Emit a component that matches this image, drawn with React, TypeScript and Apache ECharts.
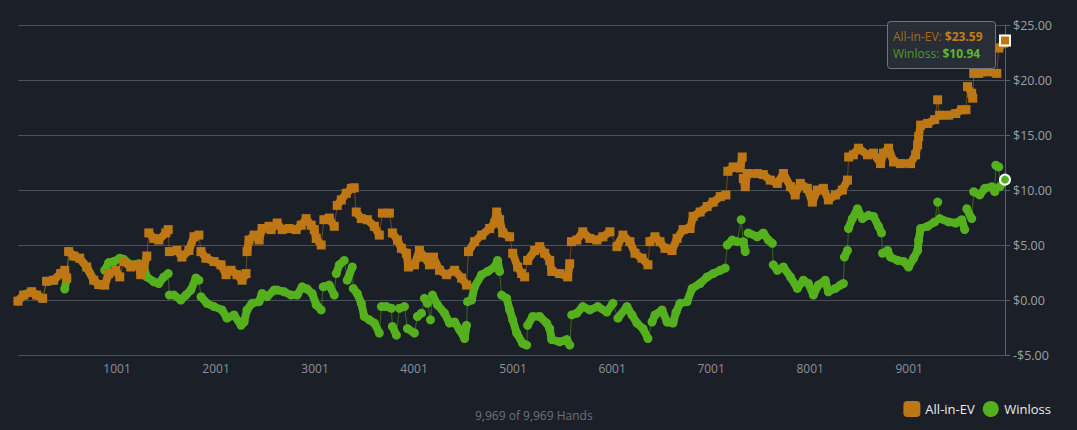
import React, { useEffect, useRef } from "react";
import * as echarts from "echarts";

// [hand, dollars]
const allInEv: [number, number][] = [
  [1, -0.1], [58, 0.45], [139, 0.75], [189, 0.45], [250, 0.15], [290, 1.7], [361, 1.8], [432, 2.4], [473, 2.7], [493, 2.0],
  [513, 4.4], [564, 4.0], [624, 3.8], [695, 3.0], [766, 1.8], [817, 1.4], [877, 1.35], [918, 2.4], [989, 2.7], [1029, 2.1],
  [1069, 3.5], [1140, 3.0], [1221, 3.2], [1240, 2.3], [1272, 3.0], [1302, 4.0], [1322, 6.1], [1373, 5.6], [1423, 5.45], [1494, 6.1],
  [1518, 6.4], [1530, 4.4], [1606, 4.5], [1656, 3.9], [1727, 4.5], [1778, 5.75], [1828, 5.9], [1849, 4.4], [1899, 3.8], [1980, 3.5],
  [2051, 3.2], [2102, 2.3], [2152, 2.7], [2213, 2.3], [2264, 1.8], [2304, 2.4], [2314, 4.4], [2334, 5.45], [2385, 5.9], [2436, 5.45],
  [2466, 6.5], [2537, 6.7], [2557, 6.4], [2618, 7.0], [2669, 6.4], [2740, 6.5], [2810, 6.4], [2861, 6.8], [2911, 7.4], [2962, 6.8],
  [2993, 6.4], [3013, 5.6], [3063, 5.0], [3090, 7.3], [3144, 7.45], [3195, 6.7], [3225, 8.6], [3266, 9.1], [3316, 9.7], [3367, 10.15],
  [3397, 10.2], [3417, 8.0], [3468, 7.4], [3529, 7.3], [3600, 6.7], [3650, 5.9], [3681, 7.9], [3752, 7.9], [3782, 6.1], [3833, 5.45],
  [3873, 4.7], [3924, 4.25], [3944, 3.0], [4005, 3.2], [4055, 4.5], [4106, 3.9], [4157, 3.2], [4197, 3.9], [4258, 2.7], [4329, 2.3],
  [4410, 2.7], [4481, 2.0], [4531, 1.36], [4551, 4.4], [4612, 5.3], [4683, 5.9], [4764, 6.5], [4815, 7.0], [4835, 8.0], [4865, 7.3],
  [4896, 6.1], [4966, 5.75], [4997, 4.25], [5047, 3.0], [5088, 2.4], [5118, 2.1], [5148, 3.6], [5219, 4.5], [5270, 4.85], [5320, 4.25],
  [5371, 3.6], [5391, 2.6], [5472, 2.4], [5553, 2.1], [5573, 3.3], [5590, 5.3], [5644, 5.45], [5705, 6.2], [5776, 5.6], [5847, 5.45],
  [5908, 5.75], [5979, 6.2], [6050, 4.85], [6110, 5.9], [6181, 5.3], [6232, 4.25], [6303, 3.8], [6363, 3.2], [6383, 5.3], [6434, 5.75],
  [6485, 5.3], [6535, 4.7], [6606, 4.5], [6657, 5.6], [6718, 6.4], [6788, 6.5], [6819, 7.6], [6890, 8.0], [6961, 8.5], [7022, 8.9],
  [7093, 9.4], [7150, 9.55], [7170, 11.7], [7224, 12.1], [7295, 12.0], [7315, 13.0], [7326, 11.05], [7346, 10.3], [7366, 11.5], [7467, 11.5],
  [7528, 11.4], [7599, 10.9], [7670, 10.6], [7731, 11.5], [7802, 10.3], [7850, 9.55], [7902, 10.6], [7973, 10.15], [8023, 8.9], [8074, 10.0],
  [8135, 10.15], [8185, 9.1], [8256, 9.55], [8327, 10.0], [8378, 10.9], [8390, 13.0], [8438, 13.2], [8489, 13.8], [8580, 13.2], [8641, 13.35],
  [8712, 12.4], [8742, 13.35], [8793, 13.8], [8843, 12.55], [8914, 12.4], [9015, 12.4], [9066, 13.2], [9087, 14.1], [9097, 14.85], [9117, 15.9],
  [9188, 16.05], [9259, 16.4], [9289, 18.2], [9309, 16.8], [9400, 16.8], [9471, 16.95], [9532, 17.3], [9575, 17.3], [9590, 19.4], [9633, 18.8],
  [9643, 18.35], [9653, 20.6], [9704, 20.6], [9805, 20.75], [9886, 20.6], [9906, 22.9], [9957, 23.35], [9969, 23.59],
];

const winloss: [number, number][] = [
  [1, -0.1], [58, 0.45], [139, 0.75], [189, 0.45], [250, 0.15], [290, 1.7], [361, 1.8], [432, 2.4], [473, 1.0], [493, 2.0],
  [513, 4.4], [564, 4.0], [624, 3.8], [695, 3.0], [766, 1.8], [817, 1.4], [860, 1.4], [877, 2.7], [918, 3.4], [970, 3.5],
  [1029, 3.8], [1069, 3.7], [1140, 3.2], [1221, 3.3], [1272, 3.0], [1302, 2.1], [1373, 1.65], [1423, 1.5], [1474, 2.1], [1518, 2.4],
  [1530, 0.45], [1575, 0.45], [1646, 0.0], [1697, 0.45], [1747, 0.9], [1798, 2.0], [1828, 1.8], [1849, 0.3], [1909, -0.3], [1980, -0.6],
  [2061, -0.9], [2112, -1.65], [2183, -1.36], [2254, -2.3], [2284, -2.0], [2314, -0.9], [2365, -0.3], [2436, -0.15], [2466, 0.6], [2517, 0.3],
  [2588, 0.9], [2618, 0.9], [2689, 0.75], [2760, 0.45], [2820, 0.45], [2871, 1.2], [2921, 1.0], [2972, 0.6], [3013, -0.45], [3063, -0.9],
  [3084, 1.2], [3144, 1.36], [3195, 0.45], [3215, 2.4], [3246, 3.2], [3296, 3.6], [3326, 1.8], [3377, 3.0], [3387, 1.05], [3427, 0.6],
  [3468, -0.3], [3498, -1.5], [3549, -1.8], [3600, -2.1], [3650, -3.0], [3671, -0.6], [3721, -0.6], [3772, -0.75], [3782, -2.4], [3823, -3.2],
  [3853, -0.75], [3904, -0.6], [3934, -2.6], [4005, -3.0], [4035, -1.5], [4076, -1.2], [4106, 0.15], [4136, -0.3], [4167, -1.8], [4187, 0.45],
  [4238, -0.45], [4309, -1.2], [4359, -2.1], [4410, -2.0], [4461, -2.7], [4511, -3.5], [4531, -2.3], [4541, -0.15], [4582, 0.0], [4612, 1.2],
  [4683, 2.3], [4744, 2.6], [4815, 3.0], [4845, 3.6], [4865, 2.6], [4885, 0.45], [4936, 0.15], [4966, -0.9], [4997, -1.8], [5037, -3.0],
  [5098, -3.95], [5138, -4.1], [5148, -2.3], [5199, -1.5], [5270, -1.5], [5340, -2.1], [5371, -2.6], [5391, -3.6], [5472, -3.8], [5543, -3.6],
  [5573, -4.1], [5593, -1.36], [5644, -1.2], [5705, -0.6], [5776, -0.9], [5857, -0.6], [5948, -1.1], [6009, -0.3], [6060, -1.65], [6151, -0.6],
  [6202, -1.36], [6252, -2.1], [6313, -2.6], [6363, -3.5], [6404, -2.0], [6434, -1.36], [6505, -0.9], [6556, -2.0], [6616, -2.1], [6647, -1.1],
  [6687, -0.3], [6758, -0.15], [6809, 1.05], [6890, 1.5], [6961, 2.1], [7022, 2.4], [7093, 2.7], [7143, 2.9], [7164, 5.0], [7214, 5.45],
  [7265, 5.3], [7305, 7.3], [7326, 5.3], [7346, 4.4], [7376, 6.1], [7467, 5.75], [7528, 6.1], [7579, 5.45], [7619, 5.15], [7629, 3.2],
  [7670, 2.7], [7731, 3.0], [7802, 2.1], [7872, 1.05], [7933, 1.8], [7983, 1.5], [8034, 0.45], [8084, 1.36], [8154, 1.8], [8185, 0.75],
  [8256, 1.05], [8307, 1.36], [8337, 1.5], [8347, 3.9], [8378, 4.5], [8388, 6.5], [8428, 7.4], [8479, 8.3], [8529, 7.4], [8590, 7.7],
  [8641, 7.6], [8692, 6.7], [8722, 6.1], [8732, 4.25], [8783, 4.5], [8813, 3.9], [8884, 3.6], [8945, 3.5], [8995, 3.0], [9046, 3.8],
  [9087, 4.5], [9097, 5.45], [9117, 6.5], [9188, 6.7], [9259, 7.1], [9289, 8.9], [9309, 7.4], [9400, 7.1], [9471, 7.0], [9532, 7.3],
  [9562, 6.4], [9583, 8.3], [9633, 7.4], [9653, 9.85], [9714, 9.55], [9765, 10.15], [9836, 10.3], [9866, 9.85], [9876, 12.25], [9906, 12.1],
  [9917, 10.3], [9969, 10.94],
];

const seriesNames = ["All-in-EV", "Winloss"];
const totalHands = 9969;
const handsCaption = "9,969 of 9,969 Hands";
const yMin = -5;
const yMax = 25;
const yStep = 5;
const xStep = 1000;

const ORANGE = "#bd7714";
const GREEN = "#55b01e";
const BG = "#1b1f27";
const FONT = "'Open Sans', 'Noto Sans', sans-serif";

function buildBand(points: [number, number][]) {
  const out: any[] = [];
  points.forEach((p, i) => {
    if (i > 0 && Math.abs(p[1] - points[i - 1][1]) > 1.3) out.push([p[0], "-"]);
    if (i === points.length - 1) {
      out.push({ value: p, symbolSize: 10, itemStyle: { borderColor: "#ffffff", borderWidth: 2 } });
    } else out.push(p);
  });
  return out;
}

function money(v: number) {
  return (v < 0 ? "-$" : "$") + Math.abs(v).toFixed(2);
}

export default function App() {
  const ref = useRef<HTMLDivElement>(null);
  useEffect(() => {
    document.body.style.margin = "0";
    document.body.style.background = BG;
    const chart = echarts.init(ref.current!, null, { renderer: "svg" });
    const lastEv = allInEv[allInEv.length - 1][1];
    const lastWl = winloss[winloss.length - 1][1];
    chart.setOption({
      animation: false,
      backgroundColor: BG,
      textStyle: { fontFamily: FONT },
      grid: { left: 18, right: 72, top: 25, bottom: 75 },
      legend: {
        data: [
          { name: seriesNames[0], icon: "roundRect" },
          { name: seriesNames[1], icon: "circle" },
        ],
        right: 21,
        top: 396,
        itemWidth: 17,
        itemHeight: 16,
        itemGap: 8,
        textStyle: { color: "#ececec", fontSize: 13, fontFamily: FONT },
      },
      xAxis: {
        type: "value",
        min: 1,
        max: totalHands,
        interval: xStep,
        axisLine: { show: false },
        axisTick: { show: false },
        splitLine: { show: false },
        axisLabel: {
          color: "#8b919a",
          fontSize: 12,
          margin: 7,
          fontFamily: FONT,
          formatter: (v: number) => (v > 1 && (v - 1) % xStep === 0 ? String(v) : ""),
        },
      },
      yAxis: {
        type: "value",
        position: "right",
        min: yMin,
        max: yMax,
        interval: yStep,
        axisLine: { show: true, lineStyle: { color: "#596070" } },
        axisTick: { show: true, length: 5, lineStyle: { color: "#596070" } },
        splitLine: { show: true, lineStyle: { color: "#4a505b", width: 1 } },
        axisLabel: { color: "#9aa0a8", fontSize: 12.5, margin: 8, fontFamily: FONT, formatter: money },
      },
      series: [
        {
          name: "Winloss-link",
          type: "line",
          data: winloss,
          showSymbol: false,
          silent: true,
          z: 1,
          lineStyle: { width: 1, color: GREEN, opacity: 0.5 },
        },
        {
          name: seriesNames[1],
          type: "line",
          data: buildBand(winloss),
          symbol: "circle",
          symbolSize: 9,
          z: 2,
          itemStyle: { color: GREEN },
          lineStyle: { width: 8, color: GREEN },
        },
        {
          name: "All-in-EV-link",
          type: "line",
          data: allInEv,
          showSymbol: false,
          silent: true,
          z: 3,
          lineStyle: { width: 1, color: ORANGE, opacity: 0.5 },
        },
        {
          name: seriesNames[0],
          type: "line",
          data: buildBand(allInEv),
          symbol: "rect",
          symbolSize: 9,
          z: 4,
          itemStyle: { color: ORANGE },
          lineStyle: { width: 8, color: ORANGE },
        },
      ],
      graphic: [
        {
          type: "rect",
          left: 887,
          top: 21,
          shape: { width: 108, height: 47, r: 3 },
          style: { fill: "rgba(42,46,55,0.95)", stroke: "#70757f", lineWidth: 1 },
          z: 100,
        },
        {
          type: "text",
          left: 893,
          top: 30,
          z: 101,
          style: {
            text: `{a|${seriesNames[0]}: }{b|${money(lastEv)}}`,
            rich: {
              a: { fill: "#a86a1c", fontSize: 12, fontFamily: FONT },
              b: { fill: "#c47d1a", fontSize: 12, fontWeight: "bold", fontFamily: FONT },
            },
          },
        },
        {
          type: "text",
          left: 893,
          top: 47,
          z: 101,
          style: {
            text: `{a|${seriesNames[1]}: }{b|${money(lastWl)}}`,
            rich: {
              a: { fill: "#4f9a22", fontSize: 12, fontFamily: FONT },
              b: { fill: "#5cb82a", fontSize: 12, fontWeight: "bold", fontFamily: FONT },
            },
          },
        },
        {
          type: "text",
          left: 475,
          top: 409,
          style: { text: handsCaption, fill: "#6b717a", fontSize: 12, fontFamily: FONT },
        },
      ],
    });
    return () => chart.dispose();
  }, []);
  return <div ref={ref} style={{ width: 1077, height: 430, background: BG }} />;
}
